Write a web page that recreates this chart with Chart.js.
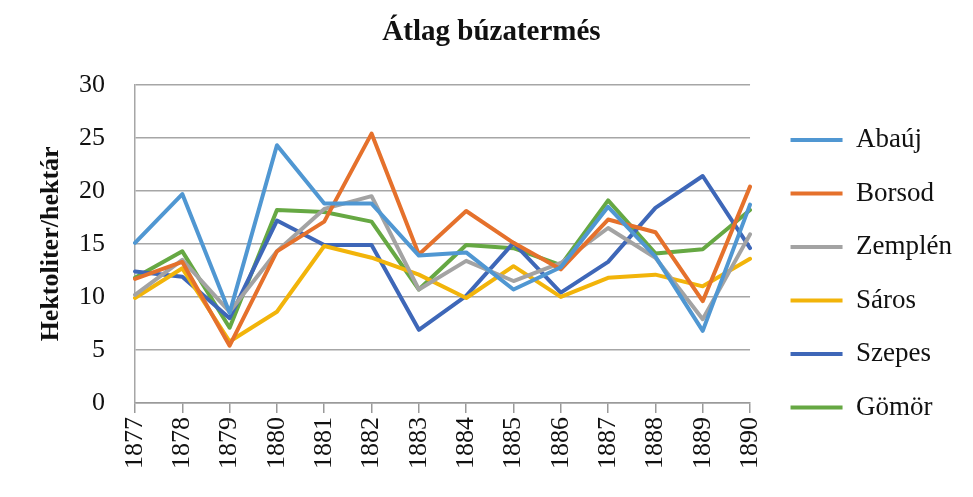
<!DOCTYPE html>
<html>
<head>
<meta charset="utf-8">
<script src="https://cdn.jsdelivr.net/npm/chart.js@4"></script>
<style>
  html,body{margin:0;padding:0;background:#fff;}
  #wrap{width:973px;height:497px;}
</style>
</head>
<body>
<div id="wrap"><canvas id="myChart" width="973" height="497"></canvas></div>
<script>
// évek
var years = ['1877','1878','1879','1880','1881','1882','1883','1884','1885','1886','1887','1888','1889','1890'];

// megyék, leolvasott értékek (hl/ha)
var abauj   = [15.1,19.7,8.5,24.3,18.8,18.8,13.9,14.2,10.7,12.8,18.5,13.8,6.8,18.7];
var borsod  = [11.7,13.3,5.4,14.3,17.1,25.4,14.0,18.1,15.1,12.6,17.3,16.1,9.6,20.4];
var zemplen = [10.2,13.5,8.6,14.3,18.3,19.5,10.7,13.4,11.5,13.2,16.5,13.7,7.9,15.9];
var saros   = [9.9,12.7,5.8,8.6,14.8,13.7,12.1,9.9,12.9,10.0,11.8,12.1,11.0,13.6];
var szepes  = [12.4,11.9,8.0,17.2,14.9,14.9,6.9,10.1,15.1,10.4,13.3,18.4,21.4,14.6];
var gomor   = [11.8,14.3,7.1,18.2,18.0,17.1,10.7,14.9,14.6,13.0,19.1,14.1,14.5,18.2];

var names  = ['Abaúj','Borsod','Zemplén','Sáros','Szepes','Gömör'];
var colors = ['#5097d2','#e5712c','#a3a3a3','#f2b40a','#3e67b8','#66a843'];
var values = [abauj,borsod,zemplen,saros,szepes,gomor];

var sets = [];
for (let i=0;i<names.length;i++){
    sets.push({
        label:names[i],
        data:values[i],
        borderColor:colors[i],
        backgroundColor:colors[i],
        borderWidth:4,
        pointRadius:0,
        borderCapStyle:'round',
        borderJoinStyle:'round',
        tension:0
    });
}

var font = 'Liberation Serif';
var ctx = document.getElementById('myChart').getContext('2d');
var myChart = new Chart(ctx, {
    type:'line',
    data:{ labels:years, datasets:sets },
    options:{
        responsive:false,
        animation:false,
        layout:{ padding:{left:21, right:11, top:0, bottom:0} },
        plugins:{
            title:{
                display:true,
                text:'Átlag búzatermés',
                color:'#111',
                font:{family:font, size:29, weight:'bold'},
                padding:{top:15, bottom:35}
            },
            legend:{
                position:'right',
                align:'start',
                maxWidth:300,
                title:{ display:true, text:' ', font:{size:10}, padding:{top:88, bottom:0} },
                labels:{
                    usePointStyle:true,
                    pointStyle:'line',
                    pointStyleWidth:52,
                    color:'#111',
                    font:{family:font, size:27},
                    padding:26.5
                }
            },
            tooltip:{enabled:false}
        },
        scales:{
            x:{
                offset:false,
                afterFit:function(s){ s.height=94; },
                grid:{ drawOnChartArea:false, drawTicks:true, tickLength:10, color:'#9a9a9a', lineWidth:1.5 },
                border:{ color:'#9a9a9a', width:1.5 },
                ticks:{ minRotation:90, maxRotation:90, padding:4, color:'#111', font:{family:font, size:26} }
            },
            y:{
                min:0, max:30,
                afterFit:function(s){ s.width=114; },
                ticks:{ stepSize:5, padding:30, color:'#111', font:{family:font, size:26} },
                grid:{ drawTicks:false, color:'#a6a6a6', lineWidth:1.5 },
                border:{ color:'#a6a6a6', width:1.5 },
                title:{ display:true, text:'Hektoliter/hektár', color:'#111', font:{family:font, size:26, weight:'bold'}, padding:{top:15,bottom:0} }
            },
            // üres jobb oldali tengely, csak hely a jelmagyarázat előtt
            y2:{
                type:'linear',
                position:'right',
                afterFit:function(s){ s.width=14; },
                ticks:{display:false},
                grid:{display:false},
                border:{display:false}
            }
        }
    }
});
</script>
</body>
</html>
